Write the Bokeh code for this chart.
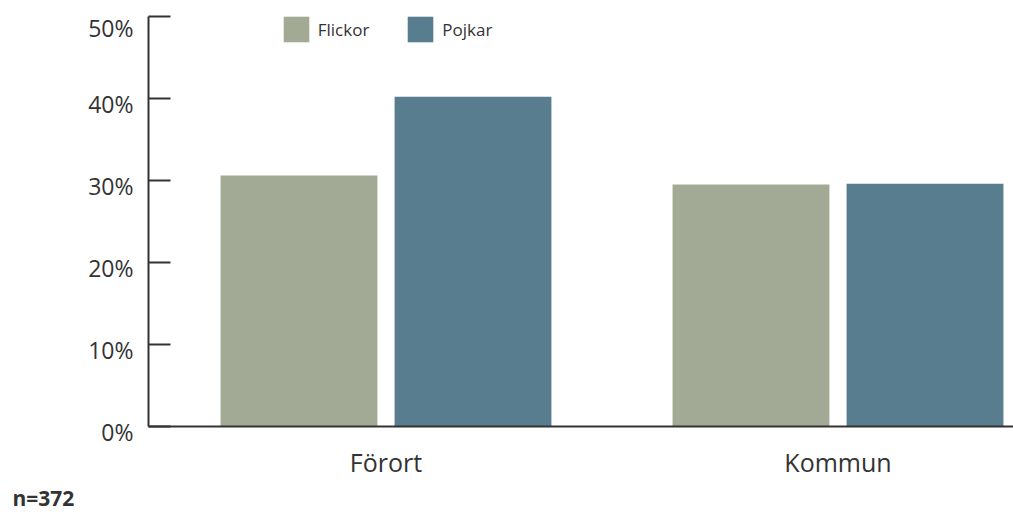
from bokeh.plotting import figure
from bokeh.models import (ColumnDataSource, Range1d, FixedTicker, Legend, LegendItem, Title)
from bokeh.embed import file_html
from bokeh.resources import INLINE

categories = ["Förort", "Kommun"]
flickor = [30.6, 29.5]
pojkar = [40.2, 29.6]
y_ticks = [0, 10, 20, 30, 40, 50]
y_tick_labels = ["0%", "10%", "20%", "30%", "40%", "50%"]
series_names = ["Flickor", "Pojkar"]
note = "n=372"

FONT = "Open Sans"
TXT = "#333333"
C_F = "#A2A994"
C_P = "#587D8F"

idx = list(range(len(categories)))
offset = 0.1925
bar_w = 0.347

src = ColumnDataSource(dict(
    xf=[i - offset for i in idx],
    xp=[i + offset for i in idx],
    flickor=flickor,
    pojkar=pojkar,
))

p = figure(frame_width=865, frame_height=410, output_backend="svg", toolbar_location=None,
           x_range=Range1d(-0.5254, 1.3883), y_range=Range1d(0, 50),
           min_border_left=148, min_border_right=0, min_border_top=16, min_border_bottom=90)
p.outline_line_color = None
p.background_fill_color = "white"
p.border_fill_color = "white"
p.xgrid.visible = False
p.ygrid.visible = False

rf = p.vbar(x="xf", top="flickor", width=bar_w, source=src, fill_color=C_F, line_color=None)
rp = p.vbar(x="xp", top="pojkar", width=bar_w, source=src, fill_color=C_P, line_color=None)

# y axis (labels pushed slightly below their ticks via an empty first line)
ya = p.yaxis[0]
ya.ticker = FixedTicker(ticks=y_ticks)
ya.major_label_overrides = {t: " \n" + l for t, l in zip(y_ticks, y_tick_labels)}
ya.axis_line_color = TXT
ya.axis_line_width = 2
ya.major_tick_line_color = TXT
ya.major_tick_line_width = 2
ya.major_tick_in = 22
ya.major_tick_out = 0
ya.minor_tick_line_color = None
ya.major_label_standoff = 15
ya.major_label_text_font = FONT
ya.major_label_text_font_size = "23px"
ya.major_label_text_color = TXT
ya.major_label_text_line_height = 0.37

# x axis
xa = p.xaxis[0]
xa.ticker = FixedTicker(ticks=idx)
xa.major_label_overrides = {i: c for i, c in zip(idx, categories)}
xa.axis_line_color = TXT
xa.axis_line_width = 2
xa.major_tick_line_color = None
xa.major_tick_in = 0
xa.major_tick_out = 0
xa.minor_tick_line_color = None
xa.major_label_standoff = 18
xa.major_label_text_font = FONT
xa.major_label_text_font_size = "25px"
xa.major_label_text_color = TXT

legend = Legend(items=[LegendItem(label=series_names[0], renderers=[rf]),
                       LegendItem(label=series_names[1], renderers=[rp])],
                orientation="horizontal", location=(131.75, 380.75),
                glyph_width=32, glyph_height=32, label_standoff=6, spacing=35,
                padding=0, margin=0, border_line_color=None, background_fill_alpha=0,
                label_text_font=FONT, label_text_font_size="17px", label_text_color=TXT)
p.add_layout(legend, "center")

t = Title(text=note, align="left", offset=-136, standoff=0,
          text_font=FONT, text_font_size="21px", text_font_style="bold",
          text_color=TXT)
p.add_layout(t, "below")

open("out.html", "w").write(file_html(p, INLINE))
